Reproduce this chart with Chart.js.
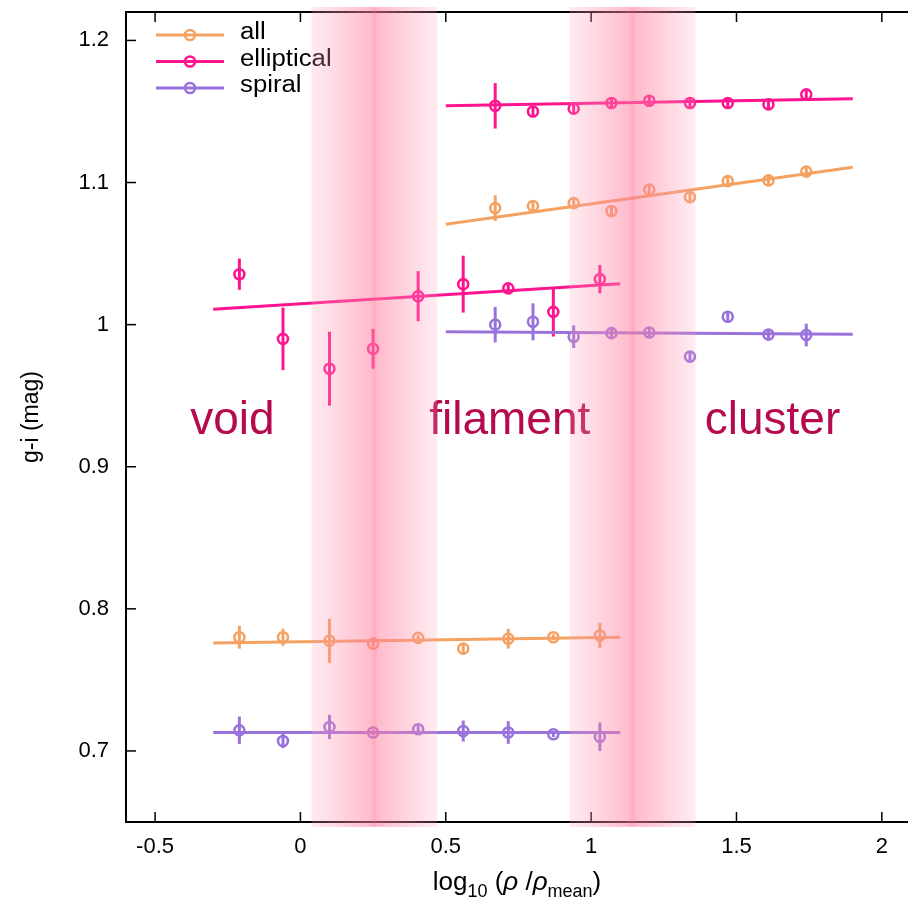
<!DOCTYPE html>
<html>
<head>
<meta charset="utf-8">
<script src="https://cdn.jsdelivr.net/npm/chart.js@4.4.1/dist/chart.umd.min.js"></script>
<style>
  body { margin: 0; background: #fff; }
  #wrap { width: 908px; height: 901px; }
</style>
</head>
<body>
<div id="wrap"><canvas id="colorChart" width="908" height="901"></canvas></div>
<script>
// density bins (log10 rho/rho_mean)
const xLow = [-0.21, -0.06, 0.10, 0.25, 0.405, 0.56, 0.715, 0.87, 1.03];
const xHigh = [0.67, 0.80, 0.94, 1.07, 1.20, 1.34, 1.47, 1.61, 1.74];

// g-i colour and error, low-z sample
const allLow = [0.780, 0.780, 0.7775, 0.7756, 0.7796, 0.772, 0.779, 0.780, 0.7812];
const allLowErr = [0.008, 0.006, 0.0155, 0.002, 0.002, 0.004, 0.007, 0.002, 0.009];
const ellLow = [1.0355, 0.990, 0.969, 0.983, 1.020, 1.0285, 1.0255, 1.009, 1.032];
const ellLowErr = [0.011, 0.022, 0.026, 0.014, 0.0176, 0.020, 0.003, 0.0174, 0.010];
const spiLow = [0.7145, 0.707, 0.7169, 0.713, 0.7153, 0.714, 0.713, 0.7118, 0.710];
const spiLowErr = [0.0097, 0.005, 0.0085, 0.002, 0.003, 0.0074, 0.008, 0.002, 0.010];

// g-i colour and error, high density sample
const allHigh = [1.082, 1.0835, 1.0855, 1.080, 1.095, 1.0897, 1.101, 1.1015, 1.1077];
const allHighErr = [0.009, 0.003, 0.003, 0.003, 0.003, 0.003, 0.003, 0.003, 0.003];
const ellHigh = [1.154, 1.150, 1.152, 1.156, 1.1575, 1.156, 1.156, 1.155, 1.162];
const ellHighErr = [0.016, 0.003, 0.003, 0.003, 0.003, 0.003, 0.003, 0.003, 0.003];
const spiHigh = [1.000, 1.002, 0.9915, 0.994, 0.9945, 0.9775, 1.0055, 0.993, 0.9927];
const spiHighErr = [0.0125, 0.013, 0.008, 0.003, 0.003, 0.004, 0.004, 0.003, 0.008];

// linear fits (end points)
const fitXLow = [-0.30, 1.10];
const fitXHigh = [0.50, 1.90];
const allLowFit = [0.776, 0.780];
const ellLowFit = [1.0108, 1.0287];
const spiLowFit = [0.713, 0.713];
const allHighFit = [1.0707, 1.1108];
const ellHighFit = [1.154, 1.159];
const spiHighFit = [0.995, 0.9932];

// transition bands [from, to]
const bands = [[0.038, 0.471], [0.926, 1.359]];

const xTicks = [-0.5, 0, 0.5, 1, 1.5, 2];
const xTickLabels = ['-0.5', '0', '0.5', '1', '1.5', '2'];
const yTicks = [0.7, 0.8, 0.9, 1.0, 1.1, 1.2];
const yTickLabels = ['0.7', '0.8', '0.9', '1', '1.1', '1.2'];

const regionNames = ['void', 'filament', 'cluster'];
const regionX = [-0.234, 0.72, 1.624];
const regionY = 0.923;

const seriesNames = ['all', 'elliptical', 'spiral'];
const colors = {
    all: '#f4a262',
    elliptical: '#ff1490',
    spiral: '#9a72dc'
};

const FONT = '"Liberation Sans", Arial, Helvetica, sans-serif';

function pts(xs, ys) {
    return xs.map((x, i) => ({ x: x, y: ys[i] }));
}

function pointSet(name, xs, ys, errs) {
    return {
        label: name,
        data: pts(xs, ys),
        errors: errs,
        showLine: false,
        borderColor: colors[name],
        backgroundColor: 'rgba(0,0,0,0)',
        pointStyle: 'circle',
        pointRadius: 5,
        pointBorderWidth: 2.6
    };
}

function fitSet(name, xs, ys) {
    return {
        label: name + ' fit',
        data: pts(xs, ys),
        showLine: true,
        borderColor: colors[name],
        borderWidth: 3,
        pointRadius: 0,
        fill: false
    };
}

const datasets = [
    fitSet('all', fitXLow, allLowFit),
    fitSet('spiral', fitXLow, spiLowFit),
    fitSet('elliptical', fitXLow, ellLowFit),
    fitSet('all', fitXHigh, allHighFit),
    fitSet('spiral', fitXHigh, spiHighFit),
    fitSet('elliptical', fitXHigh, ellHighFit),
    pointSet('all', xLow, allLow, allLowErr),
    pointSet('spiral', xLow, spiLow, spiLowErr),
    pointSet('elliptical', xLow, ellLow, ellLowErr),
    pointSet('all', xHigh, allHigh, allHighErr),
    pointSet('spiral', xHigh, spiHigh, spiHighErr),
    pointSet('elliptical', xHigh, ellHigh, ellHighErr)
];

// error bars under the markers
const errorBars = {
    id: 'errorBars',
    beforeDatasetsDraw(chart) {
        const ctx = chart.ctx;
        const xs = chart.scales.x, ys = chart.scales.y;
        ctx.save();
        chart.data.datasets.forEach(ds => {
            if (!ds.errors) return;
            ctx.strokeStyle = ds.borderColor;
            ctx.lineWidth = 3;
            ds.data.forEach((p, i) => {
                const px = xs.getPixelForValue(p.x);
                ctx.beginPath();
                ctx.moveTo(px, ys.getPixelForValue(p.y - ds.errors[i]));
                ctx.lineTo(px, ys.getPixelForValue(p.y + ds.errors[i]));
                ctx.stroke();
            });
        });
        ctx.restore();
    }
};

// frame, ticks, texts, legend and the shaded bands on top
const decorations = {
    id: 'decorations',
    afterDraw(chart) {
        const ctx = chart.ctx;
        const a = chart.chartArea;
        const xs = chart.scales.x, ys = chart.scales.y;
        ctx.save();

        // frame
        ctx.strokeStyle = '#000';
        ctx.lineWidth = 2;
        ctx.beginPath();
        ctx.moveTo(a.right + 2, a.top);
        ctx.lineTo(a.left, a.top);
        ctx.lineTo(a.left, a.bottom);
        ctx.lineTo(a.right + 2, a.bottom);
        ctx.stroke();
        ctx.lineWidth = 1.5;
        xTicks.forEach(v => {
            const px = xs.getPixelForValue(v);
            ctx.beginPath();
            ctx.moveTo(px, a.bottom); ctx.lineTo(px, a.bottom - 10);
            ctx.moveTo(px, a.top); ctx.lineTo(px, a.top + 10);
            ctx.stroke();
        });
        yTicks.forEach(v => {
            const py = ys.getPixelForValue(v);
            ctx.beginPath();
            ctx.moveTo(a.left, py); ctx.lineTo(a.left + 10, py);
            ctx.stroke();
        });

        // region names
        ctx.fillStyle = '#b50a50';
        ctx.font = '46px ' + FONT;
        ctx.textAlign = 'center';
        ctx.textBaseline = 'alphabetic';
        regionNames.forEach((t, i) => {
            ctx.fillText(t, xs.getPixelForValue(regionX[i]), ys.getPixelForValue(regionY));
        });

        // legend
        ctx.textAlign = 'left';
        ctx.textBaseline = 'middle';
        seriesNames.forEach((name, i) => {
            const ly = a.top + 23 + i * 26.5;
            ctx.strokeStyle = colors[name];
            ctx.lineWidth = 3;
            ctx.beginPath();
            ctx.moveTo(156, ly); ctx.lineTo(224, ly);
            ctx.stroke();
            ctx.lineWidth = 2.6;
            ctx.beginPath();
            ctx.arc(190, ly, 5, 0, Math.PI * 2);
            ctx.stroke();
            ctx.fillStyle = '#000';
            ctx.save();
            ctx.translate(240, ly - 2);
            ctx.scale(1.12, 1);
            ctx.font = '23px ' + FONT;
            ctx.fillText(name, 0, 0);
            ctx.restore();
        });

        // shaded transition bands
        bands.forEach(b => {
            const x0 = xs.getPixelForValue(b[0]);
            const x1 = xs.getPixelForValue(b[1]);
            const g = ctx.createLinearGradient(x0, 0, x1, 0);
            g.addColorStop(0, 'rgba(255,160,185,0.22)');
            g.addColorStop(0.25, 'rgba(255,140,170,0.38)');
            g.addColorStop(0.5, 'rgba(255,125,158,0.55)');
            g.addColorStop(0.75, 'rgba(255,140,170,0.38)');
            g.addColorStop(1, 'rgba(255,160,185,0.2)');
            ctx.fillStyle = g;
            ctx.fillRect(x0, a.top - 5, x1 - x0, a.bottom - a.top + 10);
            const xc = (x0 + x1) / 2;
            ctx.fillStyle = 'rgba(255,110,145,0.12)';
            ctx.fillRect(xc - 2, a.top - 5, 4, a.bottom - a.top + 10);
        });

        // axis titles
        ctx.fillStyle = '#000';
        ctx.textBaseline = 'alphabetic';
        const parts = [
            { t: 'log', s: 26, dy: 0 },
            { t: '10', s: 18, dy: 7 },
            { t: ' (', s: 26, dy: 0 },
            { t: 'ρ', s: 26, dy: 0, it: true },
            { t: ' /', s: 26, dy: 0 },
            { t: 'ρ', s: 26, dy: 0, it: true },
            { t: 'mean', s: 18, dy: 7 },
            { t: ')', s: 26, dy: 0 }
        ];
        let total = 0;
        parts.forEach(p => {
            ctx.font = (p.it ? 'italic ' : '') + p.s + 'px ' + FONT;
            p.w = ctx.measureText(p.t).width;
            total += p.w;
        });
        let cx = (a.left + a.right) / 2 - total / 2;
        const base = 890;
        parts.forEach(p => {
            ctx.font = (p.it ? 'italic ' : '') + p.s + 'px ' + FONT;
            ctx.fillText(p.t, cx, base + p.dy);
            cx += p.w;
        });

        ctx.save();
        ctx.translate(38, (a.top + a.bottom) / 2);
        ctx.rotate(-Math.PI / 2);
        ctx.textAlign = 'center';
        ctx.font = '23px ' + FONT;
        ctx.fillText('g-i (mag)', 0, 0);
        ctx.restore();

        ctx.restore();
    }
};

function noPad(s) {
    s.paddingTop = 0;
    s.paddingBottom = 0;
    s.paddingLeft = 0;
    s.paddingRight = 0;
}

const ctx = document.getElementById('colorChart').getContext('2d');
const colorChart = new Chart(ctx, {
    type: 'scatter',
    data: { datasets: datasets },
    options: {
        responsive: false,
        animation: false,
        layout: { autoPadding: false, padding: { top: 12, right: 0, left: 0, bottom: 0 } },
        plugins: {
            legend: { display: false },
            tooltip: { enabled: false },
            title: { display: false }
        },
        scales: {
            x: {
                type: 'linear',
                min: -0.6,
                max: 2.09,
                grid: { display: false, drawTicks: false },
                border: { display: false },
                afterBuildTicks: s => { s.ticks = xTicks.map(v => ({ value: v })); },
                afterFit: s => { s.height = 79; noPad(s); },
                ticks: {
                    padding: 12,
                    color: '#000',
                    font: { family: FONT, size: 22 },
                    callback: (v) => xTickLabels[xTicks.indexOf(v)]
                }
            },
            y: {
                type: 'linear',
                min: 0.65,
                max: 1.22,
                grid: { display: false, drawTicks: false },
                border: { display: false },
                afterBuildTicks: s => { s.ticks = yTicks.map(v => ({ value: v })); },
                afterFit: s => { s.width = 126; noPad(s); },
                ticks: {
                    padding: 17,
                    color: '#000',
                    font: { family: FONT, size: 22 },
                    callback: (v) => yTickLabels[yTicks.findIndex(t => Math.abs(t - v) < 1e-9)]
                }
            }
        }
    },
    plugins: [errorBars, decorations]
});
</script>
</body>
</html>
